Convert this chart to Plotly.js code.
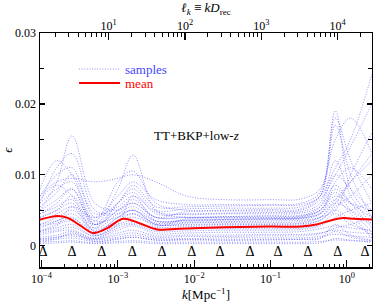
<!DOCTYPE html>
<html><head><meta charset="utf-8">
<script src="https://cdn.plot.ly/plotly-3.0.1.min.js"></script>
<style>body{margin:0;padding:0;background:#fff}#chart{width:373px;height:303px}</style>
</head><body><div id="chart"></div>
<script>
// log10(k) grid for sample curves
var sampleLogK = [-4.02, -3.8, -3.6, -3.3, -3.0, -2.8, -2.5, -2.1, -1.6, -1.0, -0.6, -0.35, -0.15, 0.05, 0.33];
var samples = [
 [0.0005,0.0006,0.0007,0.0004,0.0006,0.0007,0.0005,0.0005,0.0005,0.0005,0.0005,0.0006,0.0008,0.0007,0.0006],
 [0.0010,0.0012,0.0014,0.0008,0.0012,0.0015,0.0010,0.0010,0.0011,0.0011,0.0011,0.0013,0.0016,0.0014,0.0012],
 [0.0015,0.0020,0.0022,0.0010,0.0018,0.0022,0.0014,0.0015,0.0015,0.0016,0.0016,0.0018,0.0022,0.0019,0.0017],
 [0.0020,0.0025,0.0030,0.0012,0.0022,0.0028,0.0017,0.0018,0.0019,0.0019,0.0020,0.0024,0.0028,0.0025,0.0022],
 [0.0008,0.0010,0.0018,0.0006,0.0009,0.0012,0.0008,0.0009,0.0008,0.0008,0.0009,0.0010,0.0030,0.0015,0.0008],
 [0.0030,0.0035,0.0040,0.0015,0.0030,0.0035,0.0022,0.0024,0.0024,0.0024,0.0025,0.0030,0.0045,0.0030,0.0020],
 [0.0040,0.0050,0.0060,0.0020,0.0040,0.0050,0.0030,0.0030,0.0031,0.0031,0.0032,0.0040,0.0060,0.0050,0.0030],
 [0.0050,0.0065,0.0080,0.0025,0.0045,0.0055,0.0035,0.0035,0.0036,0.0037,0.0038,0.0045,0.0080,0.0060,0.0040],
 [0.0060,0.0080,0.0090,0.0030,0.0050,0.0065,0.0040,0.0040,0.0041,0.0042,0.0042,0.0055,0.0100,0.0080,0.0050],
 [0.0070,0.0100,0.0110,0.0040,0.0060,0.0075,0.0045,0.0045,0.0046,0.0047,0.0048,0.0060,0.0120,0.0070,0.0030],
 [0.0050,0.0090,0.0155,0.0060,0.0050,0.0060,0.0040,0.0040,0.0040,0.0040,0.0041,0.0050,0.0070,0.0060,0.0050],
 [0.0060,0.0110,0.0130,0.0050,0.0045,0.0050,0.0035,0.0036,0.0037,0.0038,0.0039,0.0045,0.0065,0.0090,0.0120],
 [0.0080,0.0120,0.0100,0.0035,0.0040,0.0045,0.0032,0.0033,0.0034,0.0035,0.0036,0.0040,0.0050,0.0100,0.0160],
 [0.0030,0.0040,0.0050,0.0030,0.0080,0.0128,0.0050,0.0040,0.0041,0.0042,0.0043,0.0050,0.0090,0.0110,0.0080],
 [0.0040,0.0050,0.0070,0.0035,0.0090,0.0105,0.0060,0.0050,0.0050,0.0051,0.0052,0.0070,0.0190,0.0080,0.0040],
 [0.0070,0.0090,0.0095,0.0090,0.0095,0.0100,0.0090,0.0070,0.0065,0.0065,0.0066,0.0080,0.0150,0.0180,0.0130],
 [0.0035,0.0045,0.0055,0.0040,0.0070,0.0090,0.0065,0.0058,0.0058,0.0058,0.0060,0.0075,0.0180,0.0120,0.0060],
 [0.0025,0.0035,0.0045,0.0025,0.0060,0.0080,0.0050,0.0052,0.0053,0.0053,0.0055,0.0070,0.0110,0.0150,0.0242],
 [0.0045,0.0060,0.0080,0.0030,0.0050,0.0060,0.0040,0.0048,0.0049,0.0049,0.0050,0.0065,0.0100,0.0140,0.0200],
 [0.0020,0.0030,0.0035,0.0018,0.0040,0.0050,0.0030,0.0032,0.0033,0.0033,0.0034,0.0040,0.0060,0.0090,0.0130],
 [0.0012,0.0015,0.0020,0.0010,0.0025,0.0030,0.0020,0.0021,0.0022,0.0022,0.0023,0.0028,0.0040,0.0050,0.0060],
 [0.0055,0.0075,0.0100,0.0045,0.0055,0.0070,0.0048,0.0044,0.0045,0.0045,0.0046,0.0055,0.0085,0.0060,0.0025],
 [0.0003,0.0004,0.0005,0.0003,0.0004,0.0005,0.0003,0.0003,0.0003,0.0003,0.0003,0.0004,0.0010,0.0008,0.0005],
 [0.0018,0.0022,0.0026,0.0014,0.0028,0.0032,0.0026,0.0027,0.0028,0.0028,0.0029,0.0036,0.0050,0.0035,0.0015],
 [0.0065,0.0085,0.0070,0.0030,0.0060,0.0085,0.0055,0.0055,0.0056,0.0057,0.0058,0.0070,0.0170,0.0100,0.0040],
 [0.0028,0.0032,0.0038,0.0022,0.0035,0.0040,0.0030,0.0029,0.0030,0.0030,0.0031,0.0036,0.0055,0.0070,0.0100],
 [0.0009,0.0012,0.0016,0.0009,0.0015,0.0018,0.0012,0.0013,0.0013,0.0014,0.0014,0.0017,0.0025,0.0030,0.0040],
 [0.0045,0.0055,0.0065,0.0020,0.0035,0.0045,0.0028,0.0038,0.0039,0.0039,0.0040,0.0050,0.0075,0.0050,0.0020],
 [0.0022,0.0028,0.0055,0.0015,0.0030,0.0070,0.0035,0.0036,0.0037,0.0038,0.0039,0.0046,0.0065,0.0045,0.0010],
 [0.0006,0.0009,0.0011,0.0006,0.0010,0.0012,0.0008,0.0008,0.0008,0.0009,0.0009,0.0011,0.0020,0.0012,0.0007]
];
var meanLogK = [-4.02,-3.9,-3.79,-3.65,-3.5,-3.32,-3.15,-2.93,-2.7,-2.48,-2.2,-1.6,-1.0,-0.6,-0.4,-0.2,-0.05,0.1,0.33];
var meanEps  = [0.0037,0.0040,0.0042,0.0039,0.0029,0.0018,0.0024,0.0038,0.0031,0.0023,0.0024,0.0026,0.0027,0.0027,0.0030,0.0036,0.0039,0.0038,0.0037];
// node positions (log10 k) marked by Delta
var nodeLogK = [-3.98,-3.60,-3.21,-2.81,-2.42,-2.03,-1.66,-1.27,-0.90,-0.51,-0.12,0.24];
var nodeEps = -0.001;
var xTickVals = [-4,-3,-2,-1,0];
var xTickText = ['10<sup>−4</sup>','10<sup>−3</sup>','10<sup>−2</sup>','10<sup>−1</sup>','10<sup>0</sup>'];
var lTickVals = [1,2,3,4];
var lTickText = ['10<sup>1</sup>','10<sup>2</sup>','10<sup>3</sup>','10<sup>4</sup>'];
var yTickVals = [0,0.01,0.02,0.03];
var yTickText = ['0','0.01','0.02','0.03'];
var legendNames = ['samples','mean'];
var logDrec = 4.12;
var xRange = [-4.02, 0.33];

var sampleColor = 'rgba(70,70,255,0.6)';
var meanColor = '#ff0000';
var pow10 = function(a){return a.map(function(v){return Math.pow(10,v);});};
var traces = [];
samples.forEach(function(s,i){
  traces.push({x: pow10(sampleLogK), y: s, mode:'lines', type:'scatter',
    line:{color:sampleColor, width:1, dash:'1px,1.6px', shape:'spline', smoothing:1},
    showlegend:false, hoverinfo:'skip'});
});
traces.push({x: pow10(meanLogK), y: meanEps, mode:'lines', type:'scatter',
  line:{color:meanColor, width:2, shape:'spline', smoothing:1}, showlegend:false});
traces.push({x: pow10(nodeLogK), y: nodeLogK.map(function(){return nodeEps;}), mode:'text', type:'scatter',
  text: nodeLogK.map(function(){return 'Δ';}), textposition:'middle center',
  textfont:{family:'Liberation Serif', size:14, color:'#000'}, showlegend:false, hoverinfo:'skip'});
traces.push({x: [], y: [], xaxis:'x2', mode:'lines', showlegend:false, hoverinfo:'skip'});

// manual legend (paper coordinates)
var legX0 = 0.1175, legX1 = 0.241, legTx = 0.25, legY = [0.846, 0.786];
var shapes = [
  {type:'line', xref:'paper', yref:'paper', x0:legX0, x1:legX1, y0:legY[0], y1:legY[0], line:{color:sampleColor, width:1, dash:'1px,1.6px'}},
  {type:'line', xref:'paper', yref:'paper', x0:legX0, x1:legX1, y0:legY[1], y1:legY[1], line:{color:meanColor, width:2}}
];
var annotations = [
  {xref:'paper', yref:'paper', x:legTx, y:legY[0], text:legendNames[0], showarrow:false, xanchor:'left', yanchor:'middle',
   font:{family:'Liberation Serif', size:13, color:'#4646ff'}},
  {xref:'paper', yref:'paper', x:legTx, y:legY[1], text:legendNames[1], showarrow:false, xanchor:'left', yanchor:'middle',
   font:{family:'Liberation Serif', size:13, color:meanColor}},
  {xref:'paper', yref:'paper', x:0.47, y:0.56, text:'TT+BKP+low-<i>z</i>', showarrow:false,
    font:{family:'Liberation Serif', size:13, color:'#000'}, xanchor:'center', yanchor:'middle'}
];

var layout = {
  width:373, height:303,
  margin:{l:40, r:1, t:33, b:36},
  paper_bgcolor:'#fff', plot_bgcolor:'#fff',
  font:{family:'Liberation Serif, DejaVu Serif, serif', size:12, color:'#000'}, showlegend:false,
  shapes: shapes, annotations: annotations,
  xaxis:{type:'log', range:xRange, tickmode:'array', tickvals:pow10(xTickVals), ticktext:xTickText,
    ticks:'inside', ticklen:7, tickwidth:1.2, tickcolor:'#000', showline:true, linecolor:'#000', linewidth:1.5,
    mirror:true, showgrid:false, zeroline:false,
    minor:{dtick:'D1', ticks:'inside', ticklen:3.5, tickwidth:1, tickcolor:'#000', showgrid:false},
    title:{text:'<i>k</i>[Mpc<sup>−1</sup>]', font:{family:'Liberation Serif', size:13}, standoff:4}},
  xaxis2:{type:'log', overlaying:'x', side:'top', anchor:'y', range:[xRange[0]+logDrec, xRange[1]+logDrec],
    tickmode:'array', tickvals:pow10(lTickVals), ticktext:lTickText,
    ticks:'inside', ticklen:7, tickwidth:1.2, tickcolor:'#000', showline:false, showgrid:false, zeroline:false,
    minor:{dtick:'D1', ticks:'inside', ticklen:3.5, tickwidth:1, tickcolor:'#000', showgrid:false},
    title:{text:'<i>ℓ<sub>k</sub></i> ≡ <i>kD</i><sub>rec</sub>', font:{family:'Liberation Serif', size:13}, standoff:4}},
  yaxis:{range:[-0.003,0.03], tickmode:'array', tickvals:yTickVals, ticktext:yTickText,
    ticks:'inside', ticklen:5, tickwidth:1.2, tickcolor:'#000', showline:true, linecolor:'#000', linewidth:1.5,
    mirror:'ticks', showgrid:false, zeroline:false,
    minor:{dtick:0.005, ticks:'inside', ticklen:4, tickwidth:1, tickcolor:'#000', showgrid:false},
    title:{text:'<i>ϵ</i>', font:{family:'Liberation Serif', size:13}, standoff:6}}
};
Plotly.newPlot('chart', traces, layout, {staticPlot:true, displayModeBar:false});
</script></body></html>
